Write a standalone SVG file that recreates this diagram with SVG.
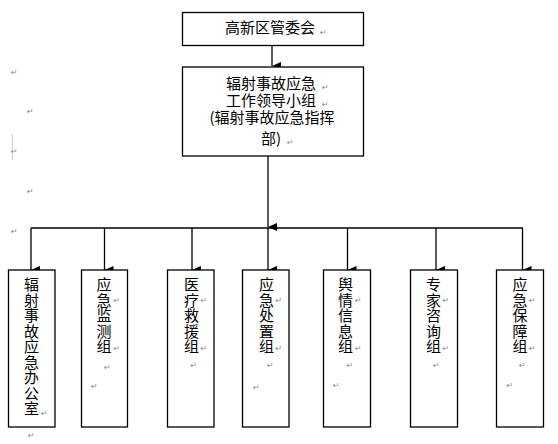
<svg xmlns="http://www.w3.org/2000/svg" width="558" height="444" viewBox="0 0 558 444">
<style>
.box{fill:#fff;stroke:#000;stroke-width:1.3}
.t{font-family:"Noto Sans CJK SC","Noto Sans",sans-serif;font-size:15px;fill:#000}
.m{font-family:"DejaVu Sans",sans-serif;font-size:8px;fill:#888}
.c{stroke:#000;stroke-width:1.3;fill:none}
</style>
<defs>
<marker id="ah" markerUnits="userSpaceOnUse" markerWidth="8" markerHeight="9" refX="4" refY="9" orient="auto-start-reverse" viewBox="0 0 8 9">
<path d="M0,0 L8,0 L4,9 Z" fill="#000"/>
</marker>
</defs>
<g id="marks">
<text class="m" x="11" y="75">↵</text>
<text class="m" x="27" y="114">↵</text>
<line x1="12.3" y1="134" x2="12.3" y2="160" stroke="#ccc" stroke-width="1"/>
<text class="m" x="11" y="154">↵</text>
<text class="m" x="27" y="194">↵</text>
<text class="m" x="11" y="234">↵</text>
<text class="m" x="28" y="438">↵</text>
</g>
<g id="connectors">
<line class="c" x1="272" y1="45" x2="272" y2="66" marker-end="url(#ah)"/>
<line class="c" x1="268" y1="156" x2="268" y2="227" marker-end="url(#ah)"/>
<line class="c" x1="31" y1="228" x2="523" y2="228"/>
<line class="c" x1="31" y1="228" x2="31" y2="270" marker-end="url(#ah)"/>
<line class="c" x1="104.5" y1="228" x2="104.5" y2="270" marker-end="url(#ah)"/>
<line class="c" x1="192" y1="228" x2="192" y2="270" marker-end="url(#ah)"/>
<line class="c" x1="268" y1="228" x2="268" y2="270" marker-end="url(#ah)"/>
<line class="c" x1="347.5" y1="228" x2="347.5" y2="270" marker-end="url(#ah)"/>
<line class="c" x1="436" y1="228" x2="436" y2="270" marker-end="url(#ah)"/>
<line class="c" x1="522.5" y1="228" x2="522.5" y2="270" marker-end="url(#ah)"/>
</g>
<g id="n_top">
<rect class="box" x="182.5" y="12.5" width="181" height="33"/>
<text class="t" x="270" y="33" text-anchor="middle">高新区管委会</text>
<text class="m" x="320" y="35">↵</text>
</g>
<g id="n_lead">
<rect class="box" x="182.5" y="67" width="181" height="89"/>
<text class="t" text-anchor="middle"><tspan x="271" y="88.5">辐射事故应急</tspan><tspan x="271" y="105.5">工作领导小组</tspan><tspan x="272" y="122.5">(辐射事故应急指挥</tspan><tspan x="271" y="143.5">部)</tspan></text>
<text class="m" x="322" y="90">↵</text>
<text class="m" x="322" y="107">↵</text>
<text class="m" x="287" y="145">↵</text>
</g>
<g id="n1">
<rect class="box" x="8.5" y="270" width="46.5" height="157"/>
<text class="t" text-anchor="middle"><tspan x="31.5" y="290">辐</tspan><tspan x="31.5" dy="15.5">射</tspan><tspan x="31.5" dy="15.5">事</tspan><tspan x="31.5" dy="15.5">故</tspan><tspan x="31.5" dy="15.5">应</tspan><tspan x="31.5" dy="15.5">急</tspan><tspan x="31.5" dy="15.5">办</tspan><tspan x="31.5" dy="15.5">公</tspan><tspan x="31.5" dy="15.5">室</tspan></text>
<text class="m" x="41" y="416">↵</text>
</g>
<g id="n2">
<rect class="box" x="81.5" y="270" width="46" height="157"/>
<text class="t" text-anchor="middle"><tspan x="104" y="290">应</tspan><tspan x="104" dy="15.5">急</tspan><tspan x="104" dy="15.5">监</tspan><tspan x="104" dy="15.5">测</tspan><tspan x="104" dy="15.5">组</tspan></text>
<text class="m" x="113.5" y="303">↵</text>
<text class="m" x="113.5" y="351">↵</text>
<text class="m" x="104" y="370">↵</text>
<text class="m" x="91" y="389">↵</text>
</g>
<g id="n3">
<rect class="box" x="167.5" y="270" width="46.5" height="157"/>
<text class="t" text-anchor="middle"><tspan x="191.5" y="290">医</tspan><tspan x="191.5" dy="15.5">疗</tspan><tspan x="191.5" dy="15.5">救</tspan><tspan x="191.5" dy="15.5">援</tspan><tspan x="191.5" dy="15.5">组</tspan></text>
<text class="m" x="200.5" y="303">↵</text>
<text class="m" x="200.5" y="351">↵</text>
<text class="m" x="190.5" y="368">↵</text>
</g>
<g id="n4">
<rect class="box" x="242.5" y="270" width="46.5" height="157"/>
<text class="t" text-anchor="middle"><tspan x="266.5" y="290">应</tspan><tspan x="266.5" dy="15.5">急</tspan><tspan x="266.5" dy="15.5">处</tspan><tspan x="266.5" dy="15.5">置</tspan><tspan x="266.5" dy="15.5">组</tspan></text>
<text class="m" x="275.5" y="303">↵</text>
<text class="m" x="275.5" y="351">↵</text>
<text class="m" x="267" y="368">↵</text>
<text class="m" x="253" y="390">↵</text>
</g>
<g id="n5">
<rect class="box" x="323.5" y="270" width="47" height="157"/>
<text class="t" text-anchor="middle"><tspan x="345.5" y="290">舆</tspan><tspan x="345.5" dy="15.5">情</tspan><tspan x="345.5" dy="15.5">信</tspan><tspan x="345.5" dy="15.5">息</tspan><tspan x="345.5" dy="15.5">组</tspan></text>
<text class="m" x="355" y="303">↵</text>
<text class="m" x="355" y="351">↵</text>
<text class="m" x="346.5" y="368">↵</text>
<text class="m" x="333" y="388">↵</text>
</g>
<g id="n6">
<rect class="box" x="410.5" y="270" width="47" height="157"/>
<text class="t" text-anchor="middle"><tspan x="433.5" y="290">专</tspan><tspan x="433.5" dy="15.5">家</tspan><tspan x="433.5" dy="15.5">咨</tspan><tspan x="433.5" dy="15.5">询</tspan><tspan x="433.5" dy="15.5">组</tspan></text>
<text class="m" x="442.5" y="303">↵</text>
<text class="m" x="442.5" y="351">↵</text>
<text class="m" x="433" y="368">↵</text>
</g>
<g id="n7">
<rect class="box" x="496.5" y="270" width="47" height="157"/>
<text class="t" text-anchor="middle"><tspan x="520" y="290">应</tspan><tspan x="520" dy="15.5">急</tspan><tspan x="520" dy="15.5">保</tspan><tspan x="520" dy="15.5">障</tspan><tspan x="520" dy="15.5">组</tspan></text>
<text class="m" x="529" y="303">↵</text>
<text class="m" x="529" y="351">↵</text>
<text class="m" x="519" y="368">↵</text>
<text class="m" x="506.5" y="388">↵</text>
</g>
</svg>
